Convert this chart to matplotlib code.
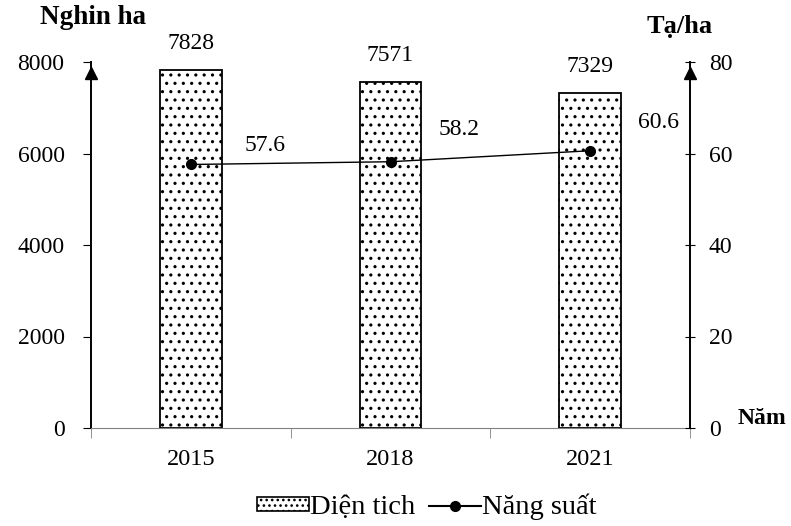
import matplotlib
matplotlib.use("Agg")
import matplotlib.pyplot as plt
from matplotlib.patches import Patch
from matplotlib.lines import Line2D

plt.rcParams['font.family'] = ['Liberation Serif', 'DejaVu Serif']
plt.rcParams['hatch.linewidth'] = 1.1

years = ['2015', '2018', '2021']
area = [7828, 7571, 7329]          # nghin ha
yield_ = [57.6, 58.2, 60.6]        # ta/ha

# label offsets in pixels for the yield values
yield_dx = [74, 69, 68]
yield_dy = [19, 32, 28]

fig = plt.figure(figsize=(7.91, 5.26), dpi=100)
ax = fig.add_axes([91/791, 1 - 428/526, 599/791, 366/526])
ax2 = ax.twinx()

x = list(range(len(years)))
ax.bar(x, area, width=0.31, color='white', edgecolor='black', hatch='..', linewidth=1.3, zorder=2)
for xi, v in zip(x, area):
    ax.annotate(str(v), (xi, v), xytext=(0, 26), textcoords='offset pixels',
                ha='center', va='center', fontsize=17)

ax2.plot(x, yield_, color='black', marker='o', markersize=7, linewidth=1, zorder=3)
for xi, v, dx, dy in zip(x, yield_, yield_dx, yield_dy):
    ax2.annotate(f'{v}', (xi, v), xytext=(dx, dy), textcoords='offset pixels',
                 ha='center', va='center', fontsize=17)

ax.set_xlim(-0.5, 2.5)
ax.set_ylim(0, 8000)
ax2.set_ylim(0, 80)
ax.set_yticks([0, 2000, 4000, 6000, 8000])
ax2.set_yticks([0, 20, 40, 60, 80])
ax.set_xticks(x)
ax.set_xticklabels(years, fontsize=17.5)
ax.tick_params(axis='x', length=0, pad=15)
ax.set_xticks([-0.5, 0.5, 1.5, 2.5], minor=True)
ax.tick_params(axis='x', which='minor', length=7, direction='out', color='gray')
ax.tick_params(axis='y', labelsize=17, length=6, direction='out', pad=13)
ax2.tick_params(axis='y', labelsize=17, length=7, direction='inout', pad=10)

for a in (ax, ax2):
    a.spines['top'].set_visible(False)
ax.spines['right'].set_visible(False)
ax2.spines['left'].set_visible(False)
ax2.spines['bottom'].set_visible(False)
ax.spines['bottom'].set_color('gray')
ax.spines['left'].set_linewidth(1.4)
ax2.spines['right'].set_linewidth(1.4)

# arrow heads on the vertical axes
ax.plot(0, 0.97, '^k', markersize=9, transform=ax.transAxes, clip_on=False)
ax.plot(1, 0.97, '^k', markersize=9, transform=ax.transAxes, clip_on=False)

fig.text(40/791, 1 - 17/526, 'Nghin ha', fontsize=19.5, fontweight='bold', va='center')
fig.text(680/791, 1 - 27/526, 'Tạ/ha', fontsize=19, fontweight='bold', va='center', ha='center')
fig.text(738/791, 1 - 418/526, 'Năm', fontsize=17, fontweight='bold', va='center')

handles = [Patch(facecolor='white', edgecolor='black', hatch='...', linewidth=1.2, label='Diện tich'),
           Line2D([], [], color='black', marker='o', markersize=7, label='Năng suất')]
fig.legend(handles=handles, loc='center', bbox_to_anchor=(427/791, 1 - 507/526), ncol=2,
           frameon=False, fontsize=20.5, handlelength=1.8, handleheight=0.4,
           handletextpad=0.05, columnspacing=0.5, borderpad=0)

fig.savefig('out.png', dpi=100)
